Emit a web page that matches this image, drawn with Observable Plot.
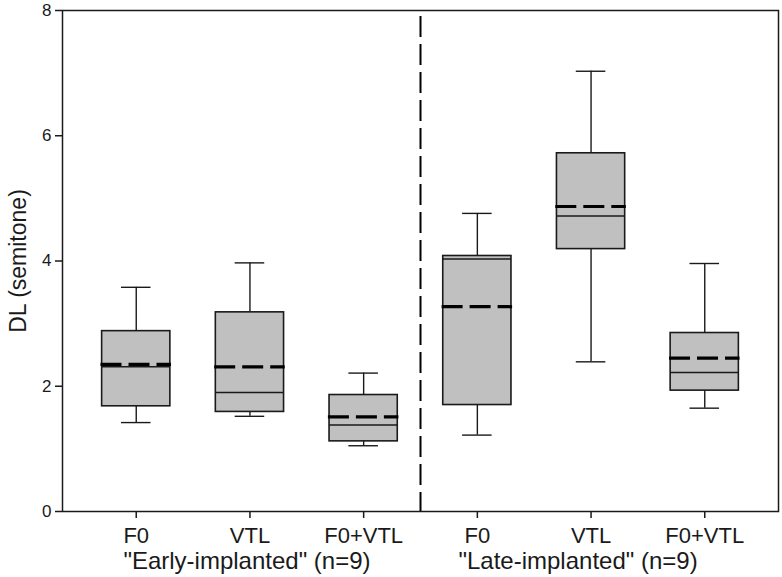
<!DOCTYPE html>
<html>
<head>
<meta charset="utf-8">
<script src="https://cdn.jsdelivr.net/npm/d3@7"></script>
<script src="https://cdn.jsdelivr.net/npm/@observablehq/plot@0.6"></script>
<style>
  html, body { margin: 0; padding: 0; background: #fff; }
  #chart svg { display: block; }
</style>
</head>
<body>
<div id="chart"></div>
<script>
// Condition labels (tick labels) and group labels
const conditions = ["F0", "VTL", "F0+VTL", "F0", "VTL", "F0+VTL"];
const groupOf = ["early", "early", "early", "late", "late", "late"];
const groupLabels = ['"Early-implanted" (n=9)', '"Late-implanted" (n=9)'];
const yTicks = [0, 2, 4, 6, 8];
const yLabel = "DL (semitone)";

// Box statistics per condition (semitones)
const whiskerLow  = [1.42, 1.52, 1.05, 1.22, 2.39, 1.65];
const q1          = [1.68, 1.59, 1.12, 1.70, 4.19, 1.93];
const median      = [2.31, 1.90, 1.38, 4.03, 4.72, 2.22];
const mean        = [2.35, 2.31, 1.51, 3.27, 4.87, 2.45];
const q3          = [2.88, 3.18, 1.86, 4.08, 5.72, 2.85];
const whiskerHigh = [3.58, 3.97, 2.21, 4.76, 7.03, 3.96];

const boxes = conditions.map((c, i) => ({
  i, c, group: groupOf[i],
  lo: whiskerLow[i], q1: q1[i], med: median[i], mean: mean[i], q3: q3[i], hi: whiskerHigh[i]
}));

// group label positions: center index of each group
const groups = ["early", "late"].map((g, k) => {
  const idx = boxes.filter(b => b.group === g).map(b => b.i);
  return { label: groupLabels[k], x: d3.mean(idx) };
});
// divider between the two groups
const lastEarly = d3.max(boxes.filter(b => b.group === "early"), b => b.i);
const firstLate = d3.min(boxes.filter(b => b.group === "late"), b => b.i);
const divider = [(lastEarly + firstLate) / 2];

const BW = 0.3, CAP = 0.13, MW = 0.31;
const ink = "#1a1a1a";
const font = "'Liberation Sans', Arial, Helvetica, sans-serif";

const plot = Plot.plot({
  width: 782,
  height: 577,
  marginLeft: 62,
  marginRight: 4,
  marginTop: 10,
  marginBottom: 66,
  style: { fontFamily: font, fontSize: "17px", color: ink, background: "#fff" },
  x: { domain: [-0.6485, boxes.length - 1 + 0.6485] },
  y: { domain: [0, 8] },
  marks: [
    Plot.axisY({
      ticks: yTicks, tickSize: 7, tickPadding: 4, fontSize: 17,
      label: null, stroke: ink, strokeWidth: 1.5
    }),
    Plot.axisX({
      ticks: boxes.map(b => b.i), tickFormat: d => conditions[d],
      tickSize: 7, tickPadding: 9, fontSize: 22, label: null,
      stroke: ink, strokeWidth: 1.5
    }),
    // y label
    Plot.text([yLabel], {
      text: d => d, frameAnchor: "left", textAnchor: "middle", lineAnchor: "middle",
      rotate: -90, dx: -44, fontSize: 23, fill: ink, clip: false
    }),
    // whiskers
    Plot.ruleX(boxes, { x: "i", y1: "q3", y2: "hi", stroke: ink, strokeWidth: 1.4 }),
    Plot.ruleX(boxes, { x: "i", y1: "lo", y2: "q1", stroke: ink, strokeWidth: 1.4 }),
    Plot.ruleY(boxes, { y: "hi", x1: d => d.i - CAP, x2: d => d.i + CAP, stroke: ink, strokeWidth: 1.4 }),
    Plot.ruleY(boxes, { y: "lo", x1: d => d.i - CAP, x2: d => d.i + CAP, stroke: ink, strokeWidth: 1.4 }),
    // boxes
    Plot.rect(boxes, {
      x1: d => d.i - BW, x2: d => d.i + BW, y1: "q1", y2: "q3",
      fill: "#c0c0c0", stroke: ink, strokeWidth: 1.6
    }),
    // median
    Plot.ruleY(boxes, { y: "med", x1: d => d.i - BW, x2: d => d.i + BW, stroke: ink, strokeWidth: 1.5 }),
    // mean (dashed)
    Plot.ruleY(boxes, {
      y: "mean", x1: d => d.i - MW, x2: d => d.i + MW,
      stroke: "#000", strokeWidth: 3.2, strokeDasharray: "21,7"
    }),
    // divider between groups
    Plot.ruleX(divider, { stroke: "#000", strokeWidth: 2, strokeDasharray: "21,7", strokeDashoffset: -6 }),
    Plot.frame({ stroke: ink, strokeWidth: 1.5 }),
    // group labels
    Plot.text(groups.slice(0, 1), {
      x: "x", y: () => 0, text: "label", dy: 57, dx: -3, lineAnchor: "bottom",
      fontSize: 24, fill: ink, clip: false
    }),
    Plot.text(groups.slice(1), {
      x: "x", y: () => 0, text: "label", dy: 57, dx: -13, lineAnchor: "bottom",
      fontSize: 24, fill: ink, clip: false
    })
  ]
});
document.getElementById("chart").appendChild(plot);
</script>
</body>
</html>
